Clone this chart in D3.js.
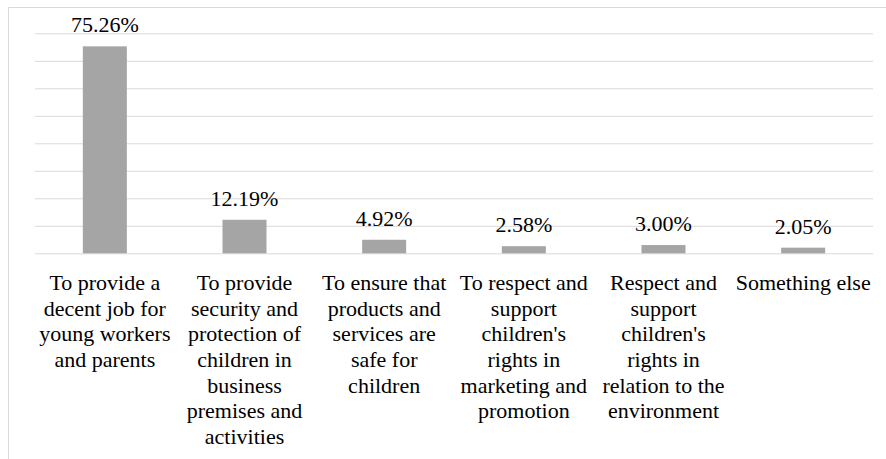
<!DOCTYPE html>
<html>
<head>
<meta charset="utf-8">
<script src="https://cdn.jsdelivr.net/npm/d3@7"></script>
<style>
  html, body { margin: 0; padding: 0; background: #fff; }
  svg { display: block; }
</style>
</head>
<body>
<svg id="chart" width="886" height="459"></svg>
<script>
const categories = [
  ["To provide a", "decent job for", "young workers", "and parents"],
  ["To provide", "security and", "protection of", "children in", "business", "premises and", "activities"],
  ["To ensure that", "products and", "services are", "safe for", "children"],
  ["To respect and", "support", "children's", "rights in", "marketing and", "promotion"],
  ["Respect and", "support", "children's", "rights in", "relation to the", "environment"],
  ["Something else"]
];
const values = [75.26, 12.19, 4.92, 2.58, 3.00, 2.05];
const valueLabels = ["75.26%", "12.19%", "4.92%", "2.58%", "3.00%", "2.05%"];
const gridTicks = [0, 10, 20, 30, 40, 50, 60, 70, 80];

const FONT = "'Liberation Serif', Tinos, 'Times New Roman', serif";

const svg = d3.select("#chart");
const plotLeft = 35, plotRight = 873, plotTop = 33.3, plotBottom = 253.3;

// chart area border (left and top visible)
svg.append("path")
  .attr("d", "M8.5,459 V7.5 H886")
  .attr("fill", "none")
  .attr("stroke", "#d9d9d9")
  .attr("stroke-width", 1);

const keys = categories.map((d, i) => i);
const x = d3.scaleBand().domain(keys).range([plotLeft, plotRight])
  .paddingInner(0.685).paddingOuter(0.3425);
const y = d3.scaleLinear().domain([0, 80]).range([plotBottom, plotTop]);

// gridlines
const grid = svg.append("g")
  .attr("transform", `translate(${plotLeft},0)`)
  .call(d3.axisLeft(y).tickValues(gridTicks).tickSize(-(plotRight - plotLeft)).tickFormat(""));
grid.select(".domain").remove();
grid.selectAll(".tick line").attr("stroke", "#d9d9d9").attr("stroke-width", 1);

// bars
svg.append("g").selectAll("rect")
  .data(values)
  .join("rect")
  .attr("x", (d, i) => x(i))
  .attr("width", x.bandwidth())
  .attr("y", d => y(d))
  .attr("height", d => y(0) - y(d))
  .attr("fill", "#a5a5a5");

// value labels
svg.append("g").selectAll("text")
  .data(values)
  .join("text")
  .attr("x", (d, i) => x(i) + x.bandwidth() / 2)
  .attr("y", d => y(d) - 14)
  .attr("text-anchor", "middle")
  .attr("font-family", FONT)
  .style("font-family", FONT)
  .style("font-size", "22px")
  .style("fill", "#000")
  .text((d, i) => valueLabels[i]);

// category axis
const xAxis = svg.append("g")
  .attr("transform", `translate(0,${plotBottom})`)
  .call(d3.axisBottom(x).tickSize(0).tickFormat(""))
  .attr("font-family", FONT);
xAxis.select(".domain").remove();
xAxis.selectAll(".tick text").remove();
xAxis.selectAll(".tick").each(function(d) {
  const t = d3.select(this).append("text")
    .attr("text-anchor", "middle")
    .style("font-family", FONT)
    .style("font-size", "22px")
    .style("fill", "#000")
    .attr("y", 36.7);
  categories[d].forEach((line, j) => {
    t.append("tspan").attr("x", 0).attr("dy", j === 0 ? 0 : 25.7).text(line);
  });
});
</script>
</body>
</html>
